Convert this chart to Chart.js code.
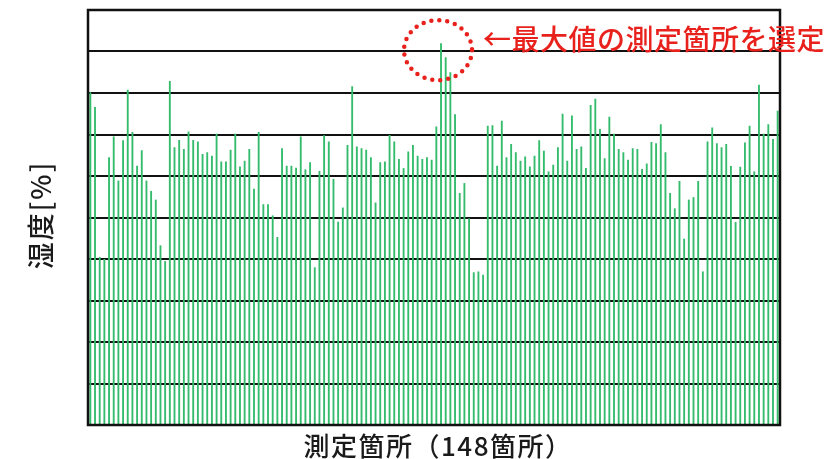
<!DOCTYPE html>
<html>
<head>
<meta charset="utf-8">
<script src="https://cdn.jsdelivr.net/npm/chart.js@4"></script>
<style>
  body { margin: 0; background: #fff; }
  #wrap { width: 832px; height: 459px; position: relative; }
</style>
</head>
<body>
<div id="wrap"><canvas id="humChart"></canvas></div>
<script>
// 湿度の測定値（148箇所）
const humidity = [
  80.2, 76.6, 40.5, 40.0, 64.5, 69.5, 58.9, 68.6, 80.8, 70.6, 62.5, 66.2, 58.9, 56.4, 54.3, 43.3,
  39.5, 82.9, 66.9, 68.7, 66.5, 70.7, 68.7, 68.3, 65.3, 65.7, 64.9, 70.2, 63.5, 63.5, 66.3, 70.2,
  62.3, 63.7, 66.5, 56.9, 70.6, 53.2, 53.2, 50.5, 45.3, 66.7, 62.5, 62.5, 62.0, 69.5, 61.6, 63.3,
  38.0, 61.2, 69.8, 68.3, 59.3, 49.0, 52.4, 67.5, 81.6, 67.1, 66.7, 66.3, 64.5, 53.6, 63.3, 63.5,
  69.9, 68.3, 64.1, 61.9, 65.9, 67.5, 64.9, 64.1, 64.5, 63.9, 71.9, 92.0, 88.6, 85.0, 74.9, 55.9,
  58.3, 49.8, 36.8, 37.0, 36.2, 72.1, 72.2, 62.5, 73.3, 64.5, 67.7, 65.7, 63.7, 64.7, 62.3, 64.9,
  68.6, 66.1, 61.1, 62.7, 66.9, 75.0, 63.7, 74.6, 66.5, 67.1, 61.9, 77.1, 78.6, 71.3, 64.3, 74.3,
  70.2, 66.5, 65.7, 63.9, 66.7, 66.5, 61.7, 63.0, 68.2, 67.9, 72.5, 65.7, 55.9, 52.2, 58.8, 44.9,
  54.3, 54.9, 58.8, 37.0, 68.3, 71.7, 67.9, 66.9, 67.7, 62.4, 48.9, 62.2, 68.1, 72.1, 61.1, 82.0,
  70.2, 72.5, 68.9, 75.7
];
const points = humidity.map((v, i) => String(i + 1));

const yTitle = '湿度[%]';
const xTitle = '測定箇所（148箇所）';
const note = '←最大値の測定箇所を選定';

const cjk = '"Noto Sans CJK JP", "Noto Sans", sans-serif';

// 枠・軸ラベル・注記
const decor = {
  id: 'decor',
  afterDraw(chart) {
    const { ctx, chartArea: a } = chart;
    ctx.save();
    ctx.strokeStyle = '#111';
    ctx.lineWidth = 2.5;
    ctx.strokeRect(a.left, a.top, a.right - a.left, a.bottom - a.top);

    ctx.fillStyle = '#1a1a1a';
    ctx.font = '500 26px ' + cjk;
    ctx.letterSpacing = '1.5px';
    ctx.textAlign = 'center';
    ctx.textBaseline = 'middle';
    ctx.fillText(xTitle, 438, 446);

    ctx.font = '500 27px ' + cjk;
    ctx.letterSpacing = '2px';
    ctx.translate(41, 215);
    ctx.rotate(-Math.PI / 2);
    ctx.fillText(yTitle, 0, 0);
    ctx.setTransform(1, 0, 0, 1, 0, 0);

    // 最大値の位置
    const i = humidity.indexOf(Math.max(...humidity));
    const bar = chart.getDatasetMeta(0).data[i];
    ctx.strokeStyle = '#e8211c';
    ctx.lineWidth = 4.5;
    ctx.lineCap = 'round';
    ctx.setLineDash([0, 8]);
    ctx.beginPath();
    ctx.ellipse(bar.x - 3, bar.y + 7, 34, 30, 0, 0, Math.PI * 2);
    ctx.stroke();
    ctx.setLineDash([]);

    ctx.fillStyle = '#e8211c';
    ctx.font = '500 28px ' + cjk;
    ctx.letterSpacing = '0.5px';
    ctx.textAlign = 'left';
    ctx.fillText(note, 483, 39);
    ctx.restore();
  }
};

new Chart(document.getElementById('humChart'), {
  type: 'bar',
  data: {
    labels: points,
    datasets: [{
      data: humidity,
      backgroundColor: '#34bc6c',
      barPercentage: 0.4,
      categoryPercentage: 1.0
    }]
  },
  options: {
    responsive: true,
    maintainAspectRatio: false,
    animation: false,
    layout: { padding: { left: 88, right: 52, top: 10, bottom: 34 } },
    plugins: { legend: { display: false }, tooltip: { enabled: false } },
    scales: {
      x: {
        display: false
      },
      y: {
        min: 0,
        max: 100,
        ticks: { display: false, stepSize: 10 },
        grid: { color: '#111', lineWidth: 2, drawTicks: false },
        border: { display: false }
      }
    }
  },
  plugins: [decor]
});
</script>
</body>
</html>
